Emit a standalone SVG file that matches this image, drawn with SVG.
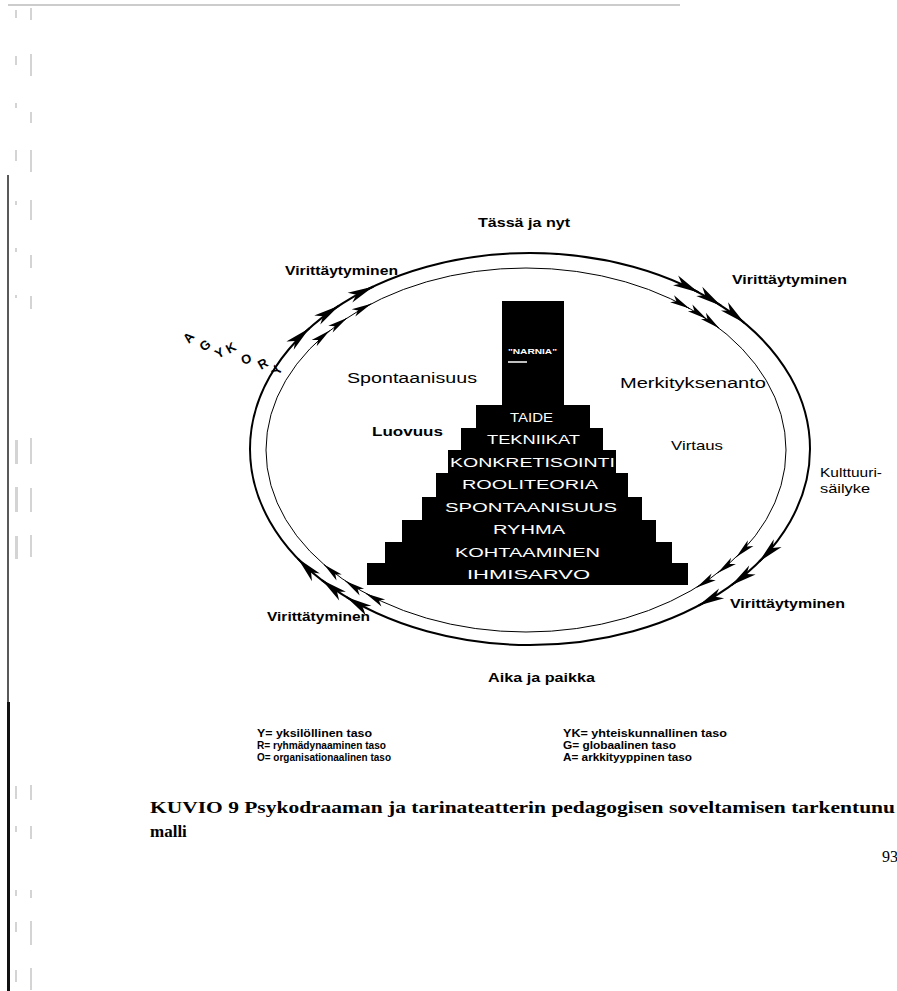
<svg xmlns="http://www.w3.org/2000/svg" width="897" height="991" viewBox="0 0 897 991">
<style>
.lbl{font-family:"Liberation Sans",Arial,sans-serif;fill:#000}
.b{font-weight:bold}
.st{font-family:"Liberation Sans",Arial,sans-serif;fill:#fff;font-size:12.5px}
.step{fill:#000}
.outer{fill:none;stroke:#000;stroke-width:2}
.inner{fill:none;stroke:#000;stroke-width:1}
.ao{fill:none;stroke:#000;stroke-width:2;marker-end:url(#mo)}
.ai{fill:none;stroke:#000;stroke-width:1;marker-end:url(#mi)}
.mk{fill:#d4d4d4}
.cap{font-family:"Liberation Serif","Times New Roman",serif;font-weight:bold;font-size:17px;fill:#000}
</style>
<defs>
<marker id="mo" markerUnits="userSpaceOnUse" markerWidth="26" markerHeight="11" refX="26" refY="5.5" orient="auto" overflow="visible"><path d="M0,0 L26,5.5 L0,11 L7,5.5 Z" fill="#000"/></marker>
<marker id="mi" markerUnits="userSpaceOnUse" markerWidth="20" markerHeight="8" refX="20" refY="4" orient="auto" overflow="visible"><path d="M0,0 L20,4 L0,8 L5,4 Z" fill="#000"/></marker>
</defs>
<rect width="897" height="991" fill="#fff"/>
<g id="margin">
<line x1="8" y1="5" x2="680" y2="5" stroke="#999" stroke-width="1"/>
<line x1="8" y1="175" x2="8" y2="702" stroke="#222" stroke-width="1.5"/>
<line x1="8.5" y1="702" x2="8.5" y2="991" stroke="#111" stroke-width="3"/>
<rect class="mk" x="15" y="10" width="2" height="8"/><rect class="mk" x="30" y="8" width="2" height="12"/>
<rect class="mk" x="15" y="56" width="2" height="9"/><rect class="mk" x="30" y="54" width="2" height="22"/>
<rect class="mk" x="15" y="103" width="2" height="5"/><rect class="mk" x="30" y="112" width="2" height="11"/>
<rect class="mk" x="15" y="150" width="2" height="11"/><rect class="mk" x="30" y="150" width="2" height="22"/>
<rect class="mk" x="15" y="201" width="2" height="4"/><rect class="mk" x="30" y="200" width="2" height="20"/>
<rect class="mk" x="15" y="248" width="2" height="4"/><rect class="mk" x="30" y="255" width="2" height="13"/>
<rect class="mk" x="15" y="295" width="2" height="3"/><rect class="mk" x="30" y="296" width="2" height="13"/>
<rect class="mk" x="15" y="440" width="3" height="24"/><rect class="mk" x="30" y="438" width="2" height="26"/>
<rect class="mk" x="15" y="487" width="3" height="25"/><rect class="mk" x="30" y="488" width="2" height="24"/>
<rect class="mk" x="15" y="536" width="3" height="23"/><rect class="mk" x="30" y="535" width="2" height="22"/>
<rect class="mk" x="15" y="786" width="2" height="13"/><rect class="mk" x="30" y="785" width="2" height="15"/>
<rect class="mk" x="15" y="826" width="2" height="6"/><rect class="mk" x="30" y="826" width="2" height="13"/>
<rect class="mk" x="15" y="890" width="2" height="6"/><rect class="mk" x="30" y="890" width="2" height="8"/>
<rect class="mk" x="15" y="922" width="2" height="10"/><rect class="mk" x="30" y="921" width="2" height="24"/>
<rect class="mk" x="15" y="970" width="2" height="12"/><rect class="mk" x="30" y="968" width="2" height="22"/>
</g>
<g id="connectors">
<ellipse class="outer" cx="530" cy="449" rx="280" ry="196"/>
<ellipse class="inner" cx="526" cy="450" rx="260" ry="182"/>
<path class="ao" d="M300.8,336 L309.4,328.3"/>
<path class="ao" d="M328.8,312.4 L339,305.7"/>
<path class="ao" d="M361.9,292 L373.5,286.5"/>
<path class="ao" d="M687.4,286.5 L698.6,292.4"/>
<path class="ao" d="M710.8,299 L721,305.7"/>
<path class="ao" d="M735.5,315.5 L744.5,323"/>
<path class="ao" d="M767.3,553.5 L759.3,561.5"/>
<path class="ao" d="M741,578.2 L731.3,585.2"/>
<path class="ao" d="M709.8,599.7 L698.6,605.6"/>
<path class="ao" d="M356.9,603.4 L346.3,597"/>
<path class="ao" d="M331.4,587.4 L322,580.1"/>
<path class="ao" d="M305.7,566.7 L297.9,558.6"/>
<path class="ai" d="M321.2,337.5 L329.7,330.6"/>
<path class="ai" d="M337.7,324.3 L347.1,318"/>
<path class="ai" d="M360.8,309.1 L371.3,303.7"/>
<path class="ai" d="M679.4,302.9 L689.5,308.6"/>
<path class="ai" d="M697.4,312.8 L706.7,319.1"/>
<path class="ai" d="M710.5,321.4 L719.2,328.2"/>
<path class="ai" d="M743.9,549.6 L736.3,557"/>
<path class="ai" d="M726.4,566.3 L717.6,573"/>
<path class="ai" d="M706.4,581.4 L696.6,587.4"/>
<path class="ai" d="M376,599 L365.8,593.4"/>
<path class="ai" d="M354.6,587.2 L345.3,580.9"/>
<path class="ai" d="M332.2,571.6 L324,564.5"/>
</g>
<g id="pyramid">
<g id="narnia"><rect class="step" x="502" y="301" width="62" height="105"/><text class="st" x="508" y="354" style="font-size:8px;font-weight:bold" textLength="49" lengthAdjust="spacingAndGlyphs">"NARNIA"</text><line x1="508" y1="362" x2="527" y2="362" stroke="#fff" stroke-width="1.5"/></g>
<g id="taide"><rect class="step" x="476" y="405" width="114" height="24"/><text class="st" x="510" y="422" textLength="43" lengthAdjust="spacingAndGlyphs">TAIDE</text></g>
<g id="tekniikat"><rect class="step" x="461" y="428" width="142" height="23"/><text class="st" x="487" y="444" textLength="93" lengthAdjust="spacingAndGlyphs">TEKNIIKAT</text></g>
<g id="konkretisointi"><rect class="step" x="448" y="450" width="168" height="24"/><text class="st" x="450" y="467" textLength="165" lengthAdjust="spacingAndGlyphs">KONKRETISOINTI</text></g>
<g id="rooliteoria"><rect class="step" x="436" y="473" width="192" height="25"/><text class="st" x="462" y="489" textLength="136" lengthAdjust="spacingAndGlyphs">ROOLITEORIA</text></g>
<g id="spontaanisuus-step"><rect class="step" x="422" y="497" width="220" height="24"/><text class="st" x="445" y="512" textLength="172" lengthAdjust="spacingAndGlyphs">SPONTAANISUUS</text></g>
<g id="ryhma"><rect class="step" x="402" y="520" width="254" height="23"/><text class="st" x="493" y="534" textLength="72" lengthAdjust="spacingAndGlyphs">RYHMA</text></g>
<g id="kohtaaminen"><rect class="step" x="385" y="542" width="287" height="22"/><text class="st" x="455" y="557" textLength="145" lengthAdjust="spacingAndGlyphs">KOHTAAMINEN</text></g>
<g id="ihmisarvo"><rect class="step" x="367" y="563" width="321" height="22"/><text class="st" x="467" y="579" textLength="123" lengthAdjust="spacingAndGlyphs">IHMISARVO</text></g>
</g>
<g id="labels">
<text class="lbl b" x="478" y="227" font-size="13" textLength="92" lengthAdjust="spacingAndGlyphs">Tässä ja nyt</text>
<text class="lbl b" x="285" y="275" font-size="12" textLength="113" lengthAdjust="spacingAndGlyphs">Virittäytyminen</text>
<text class="lbl b" x="732" y="284" font-size="12" textLength="115" lengthAdjust="spacingAndGlyphs">Virittäytyminen</text>
<text class="lbl b" x="730" y="608" font-size="12" textLength="115" lengthAdjust="spacingAndGlyphs">Virittäytyminen</text>
<text class="lbl b" x="267" y="621" font-size="12" textLength="103" lengthAdjust="spacingAndGlyphs">Virittätyminen</text>
<text class="lbl b" x="488" y="682" font-size="12" textLength="107" lengthAdjust="spacingAndGlyphs">Aika ja paikka</text>
<text class="lbl" x="347" y="383" font-size="14" textLength="130" lengthAdjust="spacingAndGlyphs">Spontaanisuus</text>
<text class="lbl" x="620" y="388" font-size="14" textLength="146" lengthAdjust="spacingAndGlyphs">Merkityksenanto</text>
<text class="lbl b" x="372" y="436" font-size="13" textLength="71" lengthAdjust="spacingAndGlyphs">Luovuus</text>
<text class="lbl" x="671" y="450" font-size="13" textLength="52" lengthAdjust="spacingAndGlyphs">Virtaus</text>
<text class="lbl" x="820" y="477" font-size="13" textLength="62" lengthAdjust="spacingAndGlyphs">Kulttuuri-</text>
<text class="lbl" x="820" y="493" font-size="13" textLength="50" lengthAdjust="spacingAndGlyphs">säilyke</text>
</g>
<g id="levels" class="lbl b" font-size="13">
<text transform="translate(189,344) rotate(-50)">A</text>
<text transform="translate(204,352) rotate(-40)">G</text>
<text transform="translate(218,359) rotate(-30)">Y</text>
<text transform="translate(229,354) rotate(-30)">K</text>
<text transform="translate(243,365) rotate(-20)">O</text>
<text transform="translate(261,370) rotate(-30)">R</text>
<text transform="translate(279,376) rotate(-65)">Y</text>
</g>
<g id="legend" class="lbl b" font-size="11">
<text x="257" y="737" textLength="115" lengthAdjust="spacingAndGlyphs">Y= yksilöllinen taso</text>
<text x="257" y="749" textLength="129" lengthAdjust="spacingAndGlyphs">R= ryhmädynaaminen taso</text>
<text x="257" y="761" textLength="134" lengthAdjust="spacingAndGlyphs">O= organisationaalinen taso</text>
<text x="563" y="737" textLength="164" lengthAdjust="spacingAndGlyphs">YK= yhteiskunnallinen taso</text>
<text x="563" y="749" textLength="113" lengthAdjust="spacingAndGlyphs">G= globaalinen taso</text>
<text x="563" y="761" textLength="129" lengthAdjust="spacingAndGlyphs">A= arkkityyppinen taso</text>
</g>
<g id="caption">
<text class="cap" x="150" y="813" textLength="745" lengthAdjust="spacingAndGlyphs">KUVIO 9 Psykodraaman ja tarinateatterin pedagogisen soveltamisen tarkentunu</text>
<text class="cap" x="150" y="837">malli</text>
<text x="882" y="862" font-family="'Liberation Serif',serif" font-size="16" fill="#000">93</text>
</g>
</svg>
